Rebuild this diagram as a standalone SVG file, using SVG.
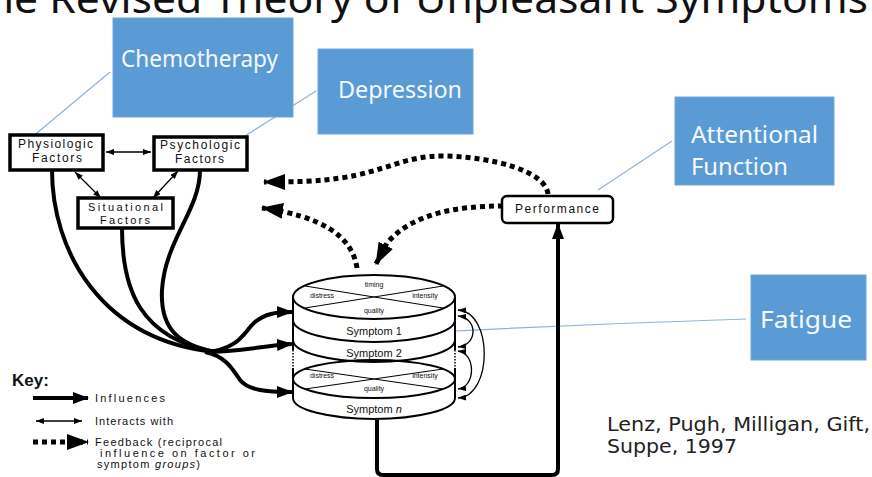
<svg xmlns="http://www.w3.org/2000/svg" width="872" height="477" viewBox="0 0 872 477">
<style>
.blue{fill:#5B9BD5;stroke:#6FA5DA;stroke-width:1}
.bt{font-family:"Noto Sans","Open Sans",sans-serif;fill:#F5F9FD}
.call{stroke:#8EB3DA;stroke-width:1.2;fill:none}
.lbl{font-family:"Liberation Sans",Arial,sans-serif;fill:#111}
.box{fill:#fff;stroke:#000;stroke-width:3.5}
.inf{fill:none;stroke:#000;stroke-width:4}
.thin{fill:none;stroke:#000;stroke-width:1.3}
.fb{fill:none;stroke:#000;stroke-width:5;stroke-dasharray:5 4}
.cyl{fill:none;stroke:#000;stroke-width:2}
.xl{stroke:#000;stroke-width:1}
.cit{font-family:"DejaVu Sans",Verdana,sans-serif;font-size:19px;fill:#222}
</style>
<defs>
<marker id="ah" viewBox="0 0 16 12" refX="15" refY="6" markerWidth="16" markerHeight="12" markerUnits="userSpaceOnUse" orient="auto"><path d="M0,0 L16,6 L0,12 z" fill="#000"/></marker>
<marker id="fh" viewBox="0 0 22 16" refX="21" refY="8" markerWidth="22" markerHeight="16" markerUnits="userSpaceOnUse" orient="auto"><path d="M0,0 L22,8 L0,16 z" fill="#000"/></marker>
<marker id="sh" viewBox="0 0 8 6" refX="8" refY="3" markerWidth="8" markerHeight="6" markerUnits="userSpaceOnUse" orient="auto-start-reverse"><path d="M0,0 L8,3 L0,6 z" fill="#000"/></marker>
</defs>
<rect width="872" height="477" fill="#fff"/>

<text x="-36" y="13" font-family="Noto Sans, Open Sans, sans-serif" font-size="40" fill="#111" textLength="904" lengthAdjust="spacingAndGlyphs">The Revised Theory of Unpleasant Symptoms</text>

<g id="callouts">
<path class="call" d="M110,72 L13,153"/>
<path class="call" d="M316,91 L245,136"/>
<path class="call" d="M672,141 L598,190"/>
<path class="call" d="M437,332 Q590,324 746,319"/>
</g>

<g id="connectors">
<path class="inf" d="M52,170 C52,250 100,340 215,352"/>
<path class="inf" d="M122,228 C122,290 140,338 215,352"/>
<path class="inf" d="M200,170 C200,210 165,240 162,290 C160,330 180,345 215,352"/>
<path class="inf" d="M205,352 C240,350 245,330 255,322 C265,314 275,312 292,312" marker-end="url(#ah)"/>
<path class="inf" d="M205,352 C240,352 260,346 292,344" marker-end="url(#ah)"/>
<path class="inf" d="M205,352 C225,356 232,368 240,380 C248,390 265,392 292,392" marker-end="url(#ah)"/>
<path class="thin" d="M106,152 L151,152" marker-start="url(#sh)" marker-end="url(#sh)"/>
<path class="thin" d="M75,172 L101,198" marker-start="url(#sh)" marker-end="url(#sh)"/>
<path class="thin" d="M153,198 L178,171" marker-start="url(#sh)" marker-end="url(#sh)"/>
<path class="fb" d="M548,194 C545,170 490,157 445,156 C405,155 385,172 340,178 C320,181 300,182 264,182" marker-end="url(#fh)"/>
<path class="fb" d="M357,268 C352,235 320,216 262,208" marker-end="url(#fh)"/>
<path class="fb" d="M503,206 C455,206 412,214 387,243 L376,264" marker-end="url(#fh)"/>
<path class="inf" d="M377,420 V469 Q377,475 383,475 H552 Q558,475 558,469 V224" marker-end="url(#ah)"/>
<path class="thin" d="M458,316 C478,318 478,345 458,347" marker-start="url(#sh)" marker-end="url(#sh)"/>
<path class="thin" d="M458,351 C476,353 476,387 458,389" marker-start="url(#sh)" marker-end="url(#sh)"/>
<path class="thin" d="M458,310 C493,312 493,396 458,398" marker-start="url(#sh)" marker-end="url(#sh)"/>
</g>

<g id="chemotherapy">
<rect class="blue" x="113" y="18" width="180" height="99"/>
<text class="bt" x="121" y="67" font-size="24" textLength="157" lengthAdjust="spacingAndGlyphs">Chemotherapy</text>
</g>
<g id="depression">
<rect class="blue" x="318" y="49" width="155" height="85"/>
<text class="bt" x="338" y="98" font-size="24" textLength="124" lengthAdjust="spacingAndGlyphs">Depression</text>
</g>
<g id="attentional">
<rect class="blue" x="675" y="97" width="159" height="88"/>
<text class="bt" x="691" y="143" font-size="24" textLength="127" lengthAdjust="spacingAndGlyphs">Attentional</text>
<text class="bt" x="691" y="175" font-size="24" textLength="97" lengthAdjust="spacingAndGlyphs">Function</text>
</g>
<g id="fatigue">
<rect class="blue" x="751" y="275" width="115" height="85"/>
<text class="bt" x="760" y="328" font-size="24" textLength="92" lengthAdjust="spacingAndGlyphs">Fatigue</text>
</g>

<g id="physiologic">
<rect class="box" x="10" y="135" width="93" height="35"/>
<text class="lbl" x="18" y="148" font-size="12" textLength="75">Physiologic</text>
<text class="lbl" x="32" y="162" font-size="12" textLength="50">Factors</text>
</g>
<g id="psychologic">
<rect class="box" x="154" y="137" width="93" height="33"/>
<text class="lbl" x="160" y="149" font-size="12" textLength="80">Psychologic</text>
<text class="lbl" x="175" y="163" font-size="12" textLength="49">Factors</text>
</g>
<g id="situational">
<rect class="box" x="78" y="198" width="95" height="30"/>
<text class="lbl" x="88" y="211" font-size="11" textLength="75">Situational</text>
<text class="lbl" x="100" y="224" font-size="11" textLength="50">Factors</text>
</g>

<g id="performance">
<rect x="502" y="196" width="111" height="27" rx="5" fill="#fff" stroke="#000" stroke-width="2.5"/>
<text class="lbl" x="515" y="213" font-size="12" textLength="84">Performance</text>
</g>

<g id="symptoms">
<path d="M293,297 A81,22 0 0 1 455,297 V398 A81,21 0 0 1 293,398 Z" fill="#fff"/>
<ellipse class="cyl" cx="374" cy="297" rx="81" ry="22"/>
<path class="cyl" d="M293,320 A81,22 0 0 0 455,320"/>
<path class="cyl" d="M293,340 A81,22 0 0 0 455,340"/>
<ellipse class="cyl" cx="374" cy="379" rx="81" ry="19"/>
<path class="cyl" d="M293,398 A81,21 0 0 0 455,398"/>
<path class="cyl" d="M293,297 V350 M455,297 V350 M293,368 V398 M455,368 V398"/>
<path d="M293,350 V368 M455,350 V368" stroke="#000" stroke-width="1.5" stroke-dasharray="1.5 1.5"/>
<line class="xl" x1="305" y1="286" x2="443" y2="308"/>
<line class="xl" x1="305" y1="308" x2="443" y2="286"/>
<line class="xl" x1="305" y1="369" x2="443" y2="389"/>
<line class="xl" x1="305" y1="389" x2="443" y2="369"/>
<text class="lbl" x="374" y="287" font-size="7" text-anchor="middle">timing</text>
<text class="lbl" x="322" y="298" font-size="7" text-anchor="middle">distress</text>
<text class="lbl" x="425" y="298" font-size="7" text-anchor="middle">intensity</text>
<text class="lbl" x="374" y="313" font-size="7" text-anchor="middle">quality</text>
<text class="lbl" x="374" y="335" font-size="11" text-anchor="middle">Symptom 1</text>
<text class="lbl" x="374" y="357" font-size="11" text-anchor="middle">Symptom 2</text>
<text class="lbl" x="322" y="378" font-size="7" text-anchor="middle">distress</text>
<text class="lbl" x="425" y="378" font-size="7" text-anchor="middle">intensity</text>
<text class="lbl" x="374" y="391" font-size="7" text-anchor="middle">quality</text>
<text class="lbl" x="374" y="413" font-size="11" text-anchor="middle">Symptom <tspan font-style="italic">n</tspan></text>
</g>

<g id="key">
<text x="12" y="386" font-family="Liberation Sans, Arial, sans-serif" font-size="17" font-weight="bold" fill="#111">Key:</text>
<path class="inf" d="M33,398 L88,398" marker-end="url(#ah)"/>
<text class="lbl" x="95" y="402" font-size="11" textLength="70">Influences</text>
<path class="thin" d="M36,421 L82,421" marker-start="url(#sh)" marker-end="url(#sh)"/>
<text class="lbl" x="95" y="425" font-size="11" textLength="78">Interacts with</text>
<path class="fb" d="M33,442 L88,442" marker-end="url(#fh)"/>
<text class="lbl" x="95" y="446" font-size="11" textLength="127">Feedback (reciprocal</text>
<text class="lbl" x="100" y="457" font-size="11" textLength="155">influence on factor or</text>
<text class="lbl" x="97" y="468" font-size="11" textLength="103">symptom <tspan font-style="italic">groups</tspan>)</text>
</g>

<g id="citation">
<text class="cit" x="607" y="431" textLength="263" lengthAdjust="spacingAndGlyphs">Lenz, Pugh, Milligan, Gift,</text>
<text class="cit" x="607" y="453" textLength="130" lengthAdjust="spacingAndGlyphs">Suppe, 1997</text>
</g>
</svg>
